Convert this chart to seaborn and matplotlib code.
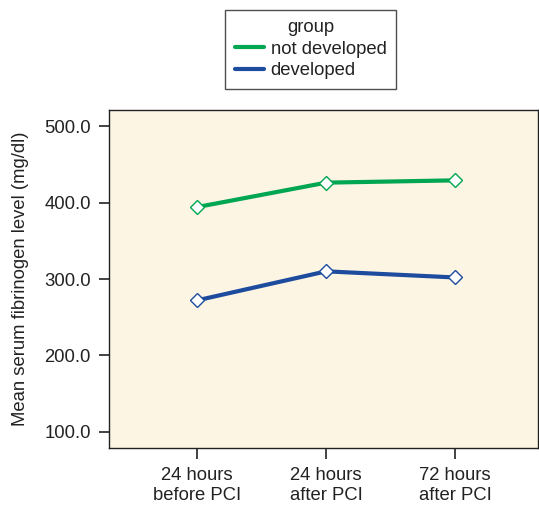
import matplotlib
matplotlib.use("Agg")
import matplotlib.pyplot as plt
from matplotlib.lines import Line2D
import seaborn as sns
import pandas as pd

timepoints = ["24 hours\nbefore PCI", "24 hours\nafter PCI", "72 hours\nafter PCI"]
groups = ["not developed", "developed"]
not_developed = [394, 426, 429]
developed = [272, 310, 302]
yticks = [100, 200, 300, 400, 500]
colors = {"not developed": "#00A651", "developed": "#1D4B9E"}

df = pd.DataFrame({
    "time": timepoints * 2,
    "value": not_developed + developed,
    "group": [groups[0]] * 3 + [groups[1]] * 3,
})

sns.set_style("ticks")
plt.rcParams["font.family"] = ["Liberation Sans", "DejaVu Sans"]

fig = plt.figure(figsize=(5.39, 5.08), dpi=100)
ax = fig.add_axes([109 / 539, 1 - 448 / 508, 429 / 539, 338 / 508])
ax.set_facecolor("#FCF5E4")

sns.lineplot(data=df, x="time", y="value", hue="group", palette=colors,
             marker="D", markersize=7, linewidth=3, legend=False, ax=ax,
             sort=False)
for ln in ax.get_lines():
    ln.set_markerfacecolor("white")
    ln.set_markeredgecolor(ln.get_color())
    ln.set_markeredgewidth(1.0)

ax.set_xlim(-0.68, 2.64)
ax.set_ylim(79, 521)
ax.set_yticks(yticks)
ax.set_yticklabels([f"{v:.1f}" for v in yticks])
ax.set_xlabel("")
ax.set_ylabel("Mean serum fibrinogen level (mg/dl)", fontsize=13.3, color="#222222", labelpad=11)
ax.tick_params(axis="both", labelsize=13.3, colors="#222222", width=1.2, direction="out")
ax.tick_params(axis="y", pad=6, length=7)
ax.tick_params(axis="x", pad=6, length=8)
for s in ax.spines.values():
    s.set_color("#222222")
    s.set_linewidth(1.0)
ax.spines["top"].set_visible(True)
ax.spines["right"].set_visible(True)

handles = [Line2D([], [], color=colors[g], linewidth=3) for g in groups]
leg = fig.legend(handles, groups, title="group", loc="upper center",
                 bbox_to_anchor=(310.5 / 539, 1 - 10 / 508), borderaxespad=0,
                 fontsize=13.3, title_fontsize=13.3,
                 frameon=True, fancybox=False, edgecolor="#222222", handlelength=1.6,
                 handletextpad=0.35, borderpad=0.5, labelspacing=0.25)
leg.get_frame().set_linewidth(1.0)
for t in leg.get_texts():
    t.set_color("#222222")
leg.get_title().set_color("#222222")

fig.savefig("out.png", dpi=100)
